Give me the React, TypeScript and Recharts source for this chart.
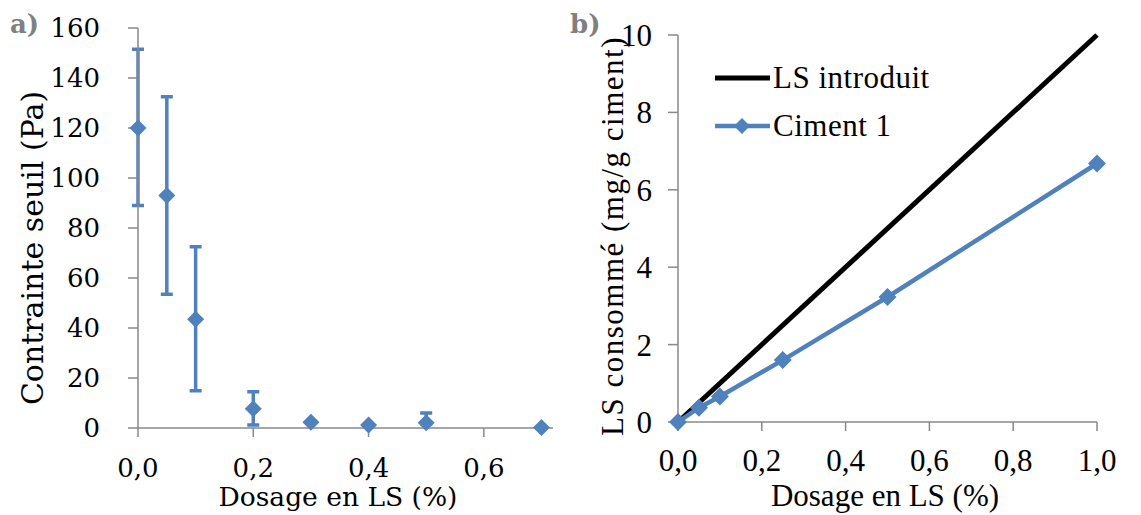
import {
  ScatterChart,
  Scatter,
  ErrorBar,
  LineChart,
  Line,
  XAxis,
  YAxis,
  Label,
  Legend,
} from "recharts";

// a) contrainte seuil vs dosage
const dosageA = [0, 0.05, 0.1, 0.2, 0.3, 0.4, 0.5, 0.7];
const seuil = [120, 93, 43.5, 7.7, 2.3, 1.2, 2.1, 0.2];
const errBas = [31, 39.5, 28.6, 6.5, 0, 0, 0.5, 0];
const errHaut = [31.5, 39.5, 29, 6.8, 0, 0, 3.9, 0];
const ticksXA = [0, 0.2, 0.4, 0.6];
const ticksYA = [0, 20, 40, 60, 80, 100, 120, 140, 160];

// b) LS consommé
const dosageB = [0, 0.05, 0.1, 0.25, 0.5, 1];
const ciment1 = [0, 0.37, 0.66, 1.6, 3.23, 6.68];
const dosageIntro = [0, 1];
const lsIntroduit = [0, 10];
const ticksXB = [0, 0.2, 0.4, 0.6, 0.8, 1];
const ticksYB = [0, 2, 4, 6, 8, 10];
const legendOrder = ["LS introduit", "Ciment 1"];

const BLUE = "#4F81BD";
const AXIS = "#898989";
const FONT_A = "DejaVu Serif";
const FONT_B = "Liberation Serif";

const dataA = dosageA.map((x, i) => ({
  x,
  y: seuil[i],
  err: [errBas[i], errHaut[i]],
}));
const dataB = dosageB.map((x, i) => ({ x, y: ciment1[i] }));
const dataIntro = dosageIntro.map((x, i) => ({ x, y: lsIntroduit[i] }));

const comma = (v: number) => v.toFixed(1).replace(".", ",");

const Diamond = ({ cx, cy, s = 8, fill = BLUE }: any) => {
  if (cx == null || cy == null) return null;
  return (
    <polygon
      points={`${cx},${cy - s} ${cx + s},${cy} ${cx},${cy + s} ${cx - s},${cy}`}
      fill={fill}
    />
  );
};

const renderLegend = (props: any) => {
  const items = [...(props.payload || [])].sort(
    (a: any, b: any) => legendOrder.indexOf(a.value) - legendOrder.indexOf(b.value)
  );
  return (
    <svg width={260} height={100}>
      {items.map((p: any, i: number) => {
        const y = 28 + i * 48;
        return (
          <g key={`leg-${i}`}>
            <line x1={5} x2={60} y1={y} y2={y} stroke={p.color} strokeWidth={i === 0 ? 5 : 4.5} />
            {p.type === "diamond" && <Diamond cx={32} cy={y} s={8} fill={p.color} />}
            <text x={63} y={y + 10} fontSize={31} letterSpacing={0.5} fontFamily={FONT_B} fill="#000">
              {p.value}
            </text>
          </g>
        );
      })}
    </svg>
  );
};

function ChartA() {
  return (
    <ScatterChart width={575} height={515} margin={{ top: 28, right: 22, bottom: 0, left: 0 }}>
      <XAxis
        type="number"
        dataKey="x"
        domain={[0, 0.72]}
        ticks={ticksXA}
        tickFormatter={comma}
        height={87}
        tickSize={9}
        tickMargin={22}
        axisLine={{ stroke: AXIS, strokeWidth: 1.5 }}
        tickLine={{ stroke: AXIS, strokeWidth: 1.5 }}
        tick={{ fill: "#000", fontSize: 26, fontFamily: FONT_A }}
      >
        <Label
          content={() => (
            <text x={338} y={506} textAnchor="middle" fontSize={26.5} fontFamily={FONT_A} fill="#000">
              Dosage en LS (%)
            </text>
          )}
        />
      </XAxis>
      <YAxis
        type="number"
        dataKey="y"
        domain={[0, 160]}
        ticks={ticksYA}
        width={138}
        tickSize={10}
        tickMargin={28}
        axisLine={{ stroke: AXIS, strokeWidth: 1.5 }}
        tickLine={{ stroke: AXIS, strokeWidth: 1.5 }}
        tick={{ fill: "#000", fontSize: 26, fontFamily: FONT_A }}
      >
        <Label
          content={() => (
            <text
              x={43}
              y={248}
              transform="rotate(-90 43 248)"
              textAnchor="middle"
              fontSize={30}
              fontFamily={FONT_A}
              fill="#000"
            >
              Contrainte seuil (Pa)
            </text>
          )}
        />
      </YAxis>
      <Scatter data={dataA} fill={BLUE} isAnimationActive={false} shape={(p: any) => <Diamond cx={p.cx} cy={p.cy} s={8.5} />}>
        <ErrorBar dataKey="err" direction="y" width={6} strokeWidth={3.5} stroke={BLUE} />
      </Scatter>
    </ScatterChart>
  );
}

function ChartB() {
  return (
    <LineChart width={571} height={515} margin={{ top: 35, right: 44, bottom: 0, left: 0 }}>
      <XAxis
        type="number"
        dataKey="x"
        domain={[0, 1]}
        ticks={ticksXB}
        tickFormatter={comma}
        height={93}
        tickSize={9}
        tickMargin={18}
        axisLine={{ stroke: AXIS, strokeWidth: 1.5 }}
        tickLine={{ stroke: AXIS, strokeWidth: 1.5 }}
        tick={{ fill: "#000", fontSize: 31, fontFamily: FONT_B }}
      >
        <Label
          content={() => (
            <text x={315} y={506} textAnchor="middle" fontSize={31} fontFamily={FONT_B} fill="#000">
              Dosage en LS (%)
            </text>
          )}
        />
      </XAxis>
      <YAxis
        type="number"
        domain={[0, 10]}
        ticks={ticksYB}
        width={108}
        tickSize={10}
        tickMargin={16}
        axisLine={{ stroke: AXIS, strokeWidth: 1.5 }}
        tickLine={{ stroke: AXIS, strokeWidth: 1.5 }}
        tick={{ fill: "#000", fontSize: 31, fontFamily: FONT_B }}
      >
        <Label
          content={() => (
            <text
              x={53}
              y={236}
              transform="rotate(-90 53 236)"
              textAnchor="middle"
              fontSize={31}
              letterSpacing={1.5}
              fontFamily={FONT_B}
              fill="#000"
            >
              LS consommé (mg/g ciment)
            </text>
          )}
        />
      </YAxis>
      <Legend
        layout="vertical"
        align="center"
        verticalAlign="middle"
        content={renderLegend}
        wrapperStyle={{ left: 140, top: 50, width: 260, height: 100 }}
      />
      <Line
        data={dataIntro}
        dataKey="y"
        name="LS introduit"
        stroke="#000"
        strokeWidth={5}
        dot={false}
        legendType="line"
        isAnimationActive={false}
      />
      <Line
        data={dataB}
        dataKey="y"
        name="Ciment 1"
        stroke={BLUE}
        strokeWidth={4.5}
        legendType="diamond"
        dot={(p: any) => <Diamond key={`d-${p.index}`} cx={p.cx} cy={p.cy} s={9} />}
        activeDot={false}
        isAnimationActive={false}
      />
    </LineChart>
  );
}

export default function App() {
  return (
    <div style={{ position: "absolute", left: 0, top: 0, width: 1141, height: 515, background: "#fff" }}>
      <div style={{ position: "absolute", left: 0, top: 0 }}>
        <ChartA />
      </div>
      <div style={{ position: "absolute", left: 570, top: 0 }}>
        <ChartB />
      </div>
      <svg width={1141} height={515} style={{ position: "absolute", left: 0, top: 0, pointerEvents: "none" }}>
        <text x={10} y={33} fontSize={26} fontWeight="bold" fontFamily={FONT_A} fill="#808080">
          a)
        </text>
        <text x={570} y={33} fontSize={26} fontWeight="bold" fontFamily={FONT_A} fill="#808080">
          b)
        </text>
      </svg>
    </div>
  );
}
